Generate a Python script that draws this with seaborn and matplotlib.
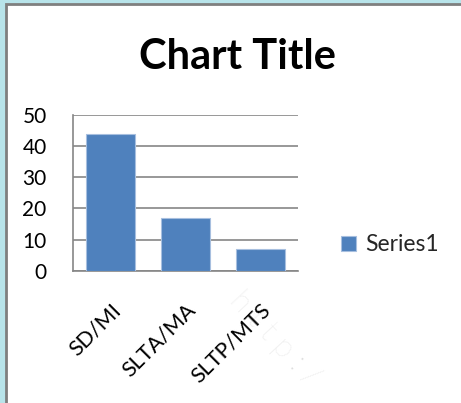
import matplotlib
matplotlib.use("Agg")
import matplotlib.pyplot as plt
from matplotlib.patches import Rectangle, Patch
import seaborn as sns
import pandas as pd

categories = ["SD/MI", "SLTA/MA", "SLTP/MTS"]
values = [44, 17, 7]
series_name = "Series1"
title = "Chart Title"
yticks = [0, 10, 20, 30, 40, 50]

sns.set_theme(style="white")
plt.rcParams['font.family'] = ['Lato', 'DejaVu Sans']

W, H = 461, 403
fig = plt.figure(figsize=(W / 100, H / 100), dpi=100)
fig.patch.set_facecolor('#b8e4ea')

# chart area (white with gray border)
fig.patches.append(Rectangle((6 / W, -0.05), 1.1, 1 - 4 / H + 0.05, transform=fig.transFigure,
                             facecolor='white', edgecolor='#7f7f7f', linewidth=2, zorder=-10))

ax = fig.add_axes([73 / W, (H - 270.7) / H, 225 / W, 155.7 / H])
ax.set_zorder(2)
ax.set_facecolor('none')
df = pd.DataFrame({"cat": categories, "val": values})
sns.barplot(data=df, x="cat", y="val", color='#4f81bd', saturation=1, width=0.65, ax=ax, zorder=3)
for p in ax.patches:
    p.set_edgecolor('#a7bfdf')
    p.set_linewidth(0.8)

ax.set_xlim(-0.5, 2.5)
ax.set_ylim(0, 50)
ax.set_yticks(yticks)
ax.yaxis.grid(True, color='#868686', linewidth=1.2, zorder=0)
ax.set_axisbelow(True)
ax.set_xlabel("")
ax.set_ylabel("")
for s in ['top', 'right']:
    ax.spines[s].set_visible(False)
for s in ['left', 'bottom']:
    ax.spines[s].set_color('#868686')
    ax.spines[s].set_linewidth(1.2)
ax.tick_params(axis='y', length=0, pad=19, labelsize=15, colors='black')
ax.tick_params(axis='x', length=0, pad=21, labelsize=15.5, colors='black')
for lab in ax.get_xticklabels():
    lab.set_rotation(45)
    lab.set_ha('right')
    lab.set_va('top')
    lab.set_rotation_mode('anchor')

fig.text(237 / W, 1 - 57 / H, title, ha='center', va='center', fontsize=30,
         fontweight='bold', color='black', zorder=3)

# watermark
fig.text(228 / W, 1 - 302 / H, "h t t p : /", rotation=-47, rotation_mode='anchor',
         ha='left', va='baseline', fontsize=22, color='#dedede', fontweight='light', zorder=1)

handle = Patch(facecolor='#4f81bd', edgecolor='#a7bfdf', linewidth=0.8)
leg = ax.legend([handle], [series_name], loc='center left',
                bbox_to_anchor=(341 / W, 1 - 245 / H), bbox_transform=fig.transFigure,
                frameon=False, fontsize=16.5, borderpad=0, borderaxespad=0,
                handlelength=0.65, handleheight=0.65, handletextpad=0.42)

fig.savefig("out.png", dpi=100, facecolor=fig.get_facecolor())
